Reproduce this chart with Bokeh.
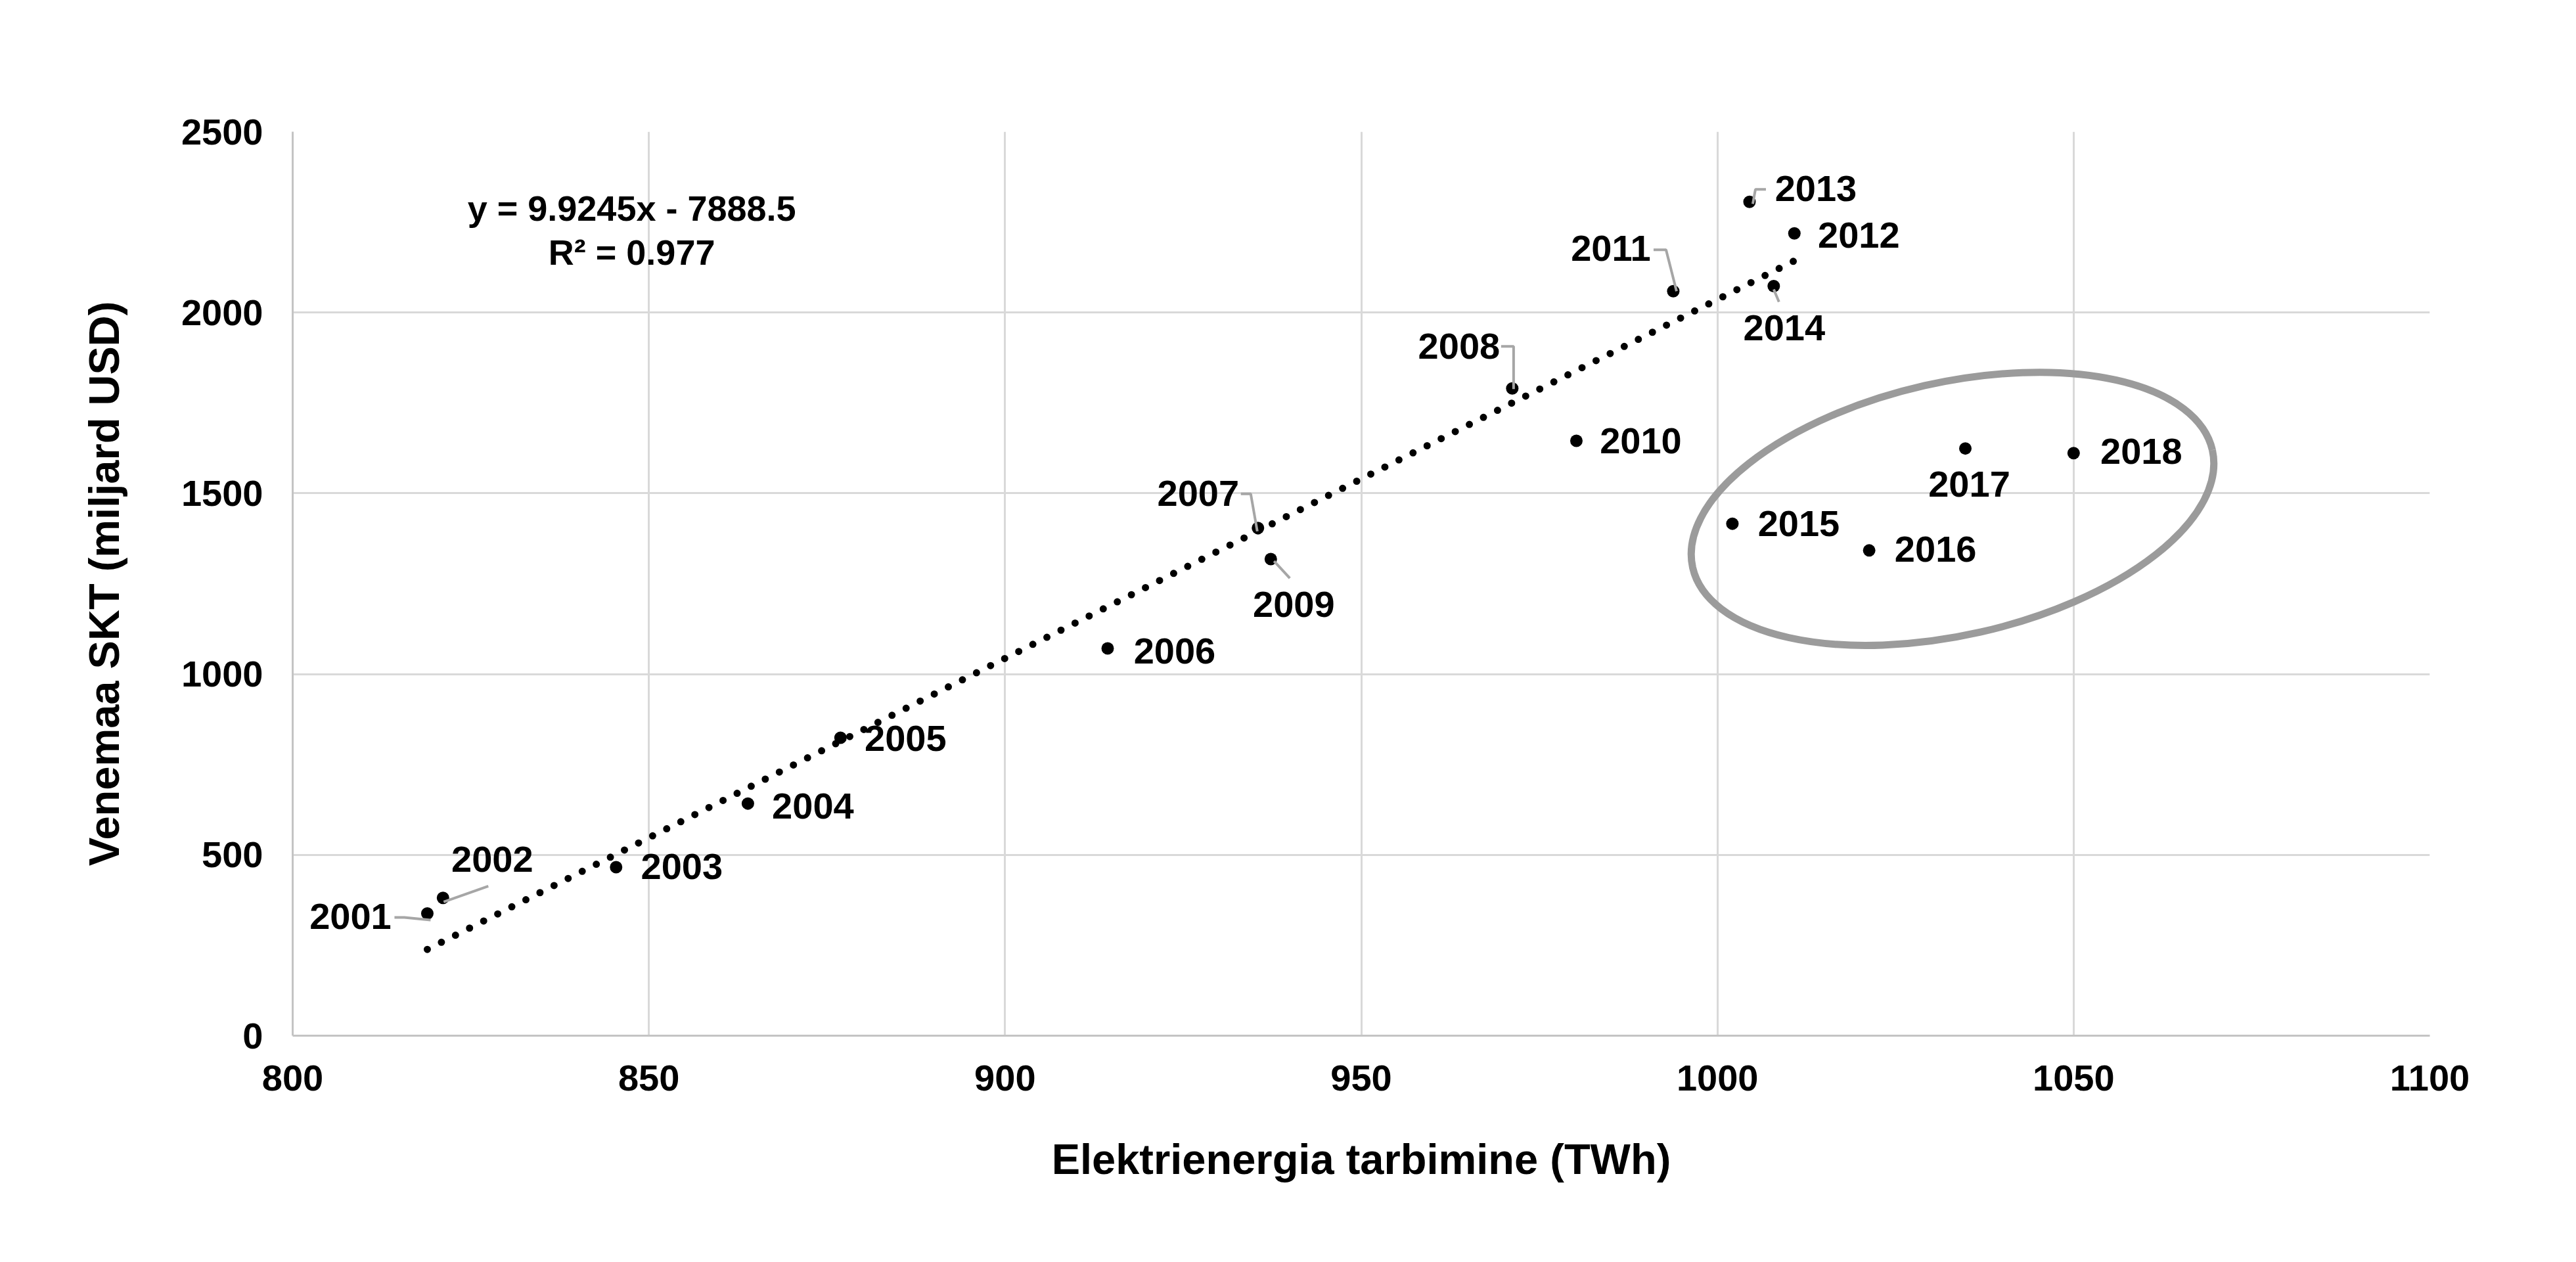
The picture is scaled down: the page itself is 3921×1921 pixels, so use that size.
import numpy as np
from bokeh.plotting import figure
from bokeh.models import ColumnDataSource, FixedTicker
from bokeh.core.properties import value
from bokeh.embed import file_html
from bokeh.resources import INLINE

# Venemaa: elektrienergia tarbimine (TWh) vs SKT (miljard USD), 2001-2018
years = [str(y) for y in range(2001, 2019)]
elekter = [818.9, 821.1, 845.4, 863.9, 876.9, 914.4, 935.5, 971.2, 937.3,
           980.2, 993.8, 1010.8, 1004.5, 1007.9, 1002.1, 1021.3, 1034.8, 1050.0]
skt = [338, 381, 466, 642, 824, 1071, 1404, 1790, 1318,
       1645, 2059, 2219, 2306, 2073, 1416, 1342, 1624, 1611]

# linear trend shown on the chart (fitted on 2001-2014)
slope = 9.9245
intercept = -7888.5
r2 = 0.977
n_fit = 14

x_ticks = [800, 850, 900, 950, 1000, 1050, 1100]
y_ticks = [0, 500, 1000, 1500, 2000, 2500]

# label placement, screen px from the point (dx right, dy down)
label_dx = [-117, 75, 100, 99, 99, 102, -91, -81, 35, 98, -95, 98, 101, 16, 101, 101, 6, 103]
label_dy = [5, -59, -1, 4, 1, 4, -53, -64, 69, 0, -65, 3, -20, 63, 0, -2, 54, -3]

# leader lines, screen px from the point
leaders = {
    "2001": [(-50, 6), (-35, 6), (5, 10)],
    "2002": [(1, 6), (69, -18)],
    "2007": [(-26, -52), (-11, -52), (-1, 5)],
    "2008": [(-17, -64), (2, -64), (2, 1)],
    "2009": [(5, 3), (29, 29)],
    "2011": [(-30, -63), (-11, -63), (5, 0)],
    "2013": [(25, -19), (9, -19), (5, 3)],
    "2014": [(8, 24), (0, 5)],
}

W, H = 3905, 1905
B_LEFT, B_RIGHT, B_TOP, B_BOTTOM = 445, 207, 200, 329
px_x = (W - B_LEFT - B_RIGHT) / (x_ticks[-1] - x_ticks[0])
px_y = (H - B_TOP - B_BOTTOM) / (y_ticks[-1] - y_ticks[0])

FONT = "Liberation Sans"

p = figure(width=W, height=H, x_range=(800, 1100), y_range=(0, 2500),
           output_backend="svg", toolbar_location=None,
           min_border_left=B_LEFT, min_border_right=B_RIGHT,
           min_border_top=B_TOP, min_border_bottom=B_BOTTOM)
p.outline_line_color = None
p.background_fill_color = "white"

p.xaxis.ticker = FixedTicker(ticks=x_ticks)
p.yaxis.ticker = FixedTicker(ticks=y_ticks)
for g in (p.xgrid, p.ygrid):
    g.grid_line_color = "#d9d9d9"
    g.grid_line_width = 3

for ax in (p.xaxis, p.yaxis):
    ax.axis_line_color = "#c4c4c4"
    ax.axis_line_width = 3
    ax.major_tick_line_color = None
    ax.minor_tick_line_color = None
    ax.major_label_text_font = FONT
    ax.major_label_text_font_style = "bold"
    ax.major_label_text_font_size = "56px"
    ax.major_label_text_color = "black"
    ax.axis_label_text_font = FONT
    ax.axis_label_text_font_style = "bold"
    ax.axis_label_text_font_size = "65px"
    ax.axis_label_text_color = "black"

p.xaxis.axis_label = "Elektrienergia tarbimine (TWh)"
p.yaxis.axis_label = "Venemaa SKT (miljard USD)"
p.xaxis.major_label_standoff = 39
p.yaxis.major_label_standoff = 39
p.xaxis.axis_label_standoff = 65
p.yaxis.axis_label_standoff = 78

# trend line
tx = np.array([min(elekter[:n_fit]), max(elekter[:n_fit])])
p.line(tx, slope * tx + intercept, line_color="black", line_width=11,
       line_dash="0 24", line_cap="round")

src = ColumnDataSource(dict(x=elekter, y=skt, year=years, dx=label_dx, dy=label_dy))
p.scatter("x", "y", source=src, size=19, fill_color="black", line_color=None)

# leader lines
lx, ly = [], []
for yr, pts in leaders.items():
    i = years.index(yr)
    lx.append([elekter[i] + ox / px_x for ox, oy in pts])
    ly.append([skt[i] - oy / px_y for ox, oy in pts])
p.multi_line(lx, ly, line_color="#a6a6a6", line_width=4)

p.text("x", "y", text="year", x_offset="dx", y_offset="dy", source=src,
       text_font=value(FONT), text_font_style="bold", text_font_size="56px",
       text_align="center", text_baseline="middle", text_color="black")

# equation
eq_lines = ["y = %.4fx - %.1f" % (slope, -intercept), "R\u00b2 = %.3f" % r2]
p.text(x=[847.6, 847.6], y=[2289, 2167], text=eq_lines,
       text_font=value(FONT), text_font_style="bold", text_font_size="54px",
       text_align="center", text_baseline="alphabetic", text_color="black")

# ring around 2015-2018
p.ellipse(x=[1033.0], y=[1457], width=811, height=385,
          width_units="screen", height_units="screen", angle=0.2225,
          fill_color=None, line_color="#9b9b9b", line_width=11)

open("out.html", "w").write(file_html(p, INLINE))
